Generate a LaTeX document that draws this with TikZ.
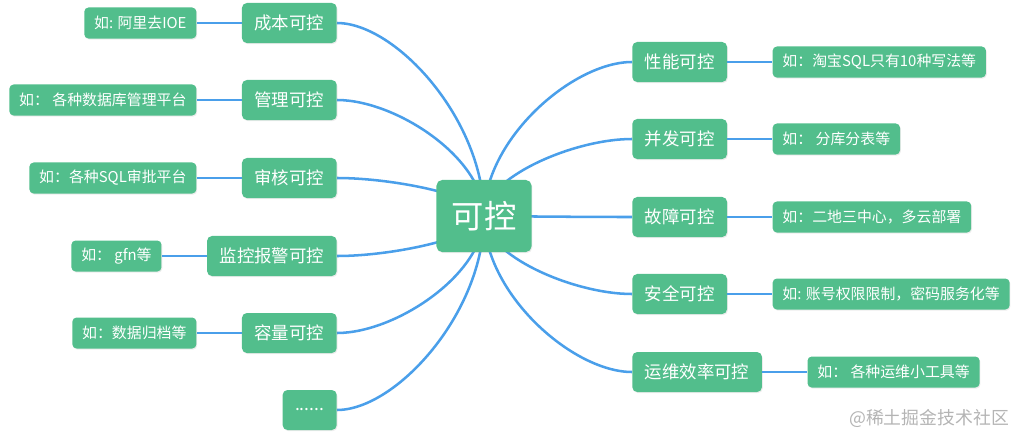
\documentclass[tikz,border=0pt]{standalone}
\usepackage{fontspec}
\setmainfont{Noto Sans CJK SC}
\usetikzlibrary{positioning, backgrounds, shadows}
\definecolor{Leaf}{HTML}{52BE8C}
\definecolor{Sky}{HTML}{4A9FEA}
\definecolor{Mark}{HTML}{B4B4B4}

\tikzset{
  root/.style={fill=Leaf, text=white, rounded corners=4pt, inner sep=0pt,
    minimum width=2.375cm, minimum height=1.8cm,
    font=\fontsize{23}{26}\selectfont,
    drop shadow={opacity=0.15, shadow xshift=0.6pt, shadow yshift=-0.8pt}},
  topic/.style={fill=Leaf, text=white, rounded corners=3.5pt,
    inner xsep=8.9pt, inner ysep=0pt, minimum height=1cm,
    font=\fontsize{12.4}{14}\selectfont,
    drop shadow={opacity=0.15, shadow xshift=0.6pt, shadow yshift=-0.8pt}},
  example/.style={fill=Leaf, text=white, rounded corners=3pt,
    inner xsep=7pt, inner ysep=0pt, minimum height=0.775cm,
    font=\fontsize{10.6}{12}\selectfont,
    drop shadow={opacity=0.15, shadow xshift=0.6pt, shadow yshift=-0.8pt}},
  branch/.style={Sky, line width=1.8pt},
  twig/.style={Sky, line width=1pt},
}

\begin{document}
\begin{tikzpicture}[x=0.025cm, y=0.025cm, node distance=1.125cm]
  \useasboundingbox (0,0) rectangle (1017,-434);

  \node[root] (ctrl) at (484,-216) {可控};

  \foreach \name/\ypos/\txt/\eg in {
      cost/23/成本可控/{如: 阿里去IOE},
      manage/100/管理可控/{如： 各种数据库管理平台},
      audit/178/审核可控/{如：各种SQL审批平台},
      monitor/256/监控报警可控/{如： gfn等},
      capacity/333/容量可控/{如：数据归档等}} {
    \node[topic, anchor=east] (\name) at (337,-\ypos) {\txt};
    \node[example, left=of \name] (\name-eg) {\eg};
    \draw[twig] (\name.west) -- (\name-eg.east);
  }
  \node[topic, anchor=east] (more) at (337,-410) {......};

  \foreach \name/\ypos/\txt/\eg in {
      perf/62/性能可控/{如：淘宝SQL只有10种写法等},
      conc/139/并发可控/{如： 分库分表等},
      fault/217/故障可控/{如：二地三中心，多云部署},
      safety/294/安全可控/{如: 账号权限限制，密码服务化等},
      ops/372/运维效率可控/{如： 各种运维小工具等}} {
    \node[topic, anchor=west] (\name) at (632,-\ypos) {\txt};
    \node[example, right=of \name] (\name-eg) {\eg};
    \draw[twig] (\name.east) -- (\name-eg.west);
  }

  \begin{scope}[on background layer]
    \foreach \name/\dy in {cost/96, manage/58, audit/19, monitor/-20, capacity/-58, more/-97}
      \draw[branch] (ctrl.center) .. controls +(0,\dy) and +(59,0) .. (\name.east);
    \foreach \name/\dy in {perf/77, conc/38, fault/0, safety/-39, ops/-78}
      \draw[branch] (ctrl.center) .. controls +(0,\dy) and +(-59,0) .. (\name.west);
  \end{scope}

  \node[text=Mark, font=\fontsize{12.7}{14}\selectfont] (mark) at (929,-418) {@稀土掘金技术社区};
\end{tikzpicture}
\end{document}
